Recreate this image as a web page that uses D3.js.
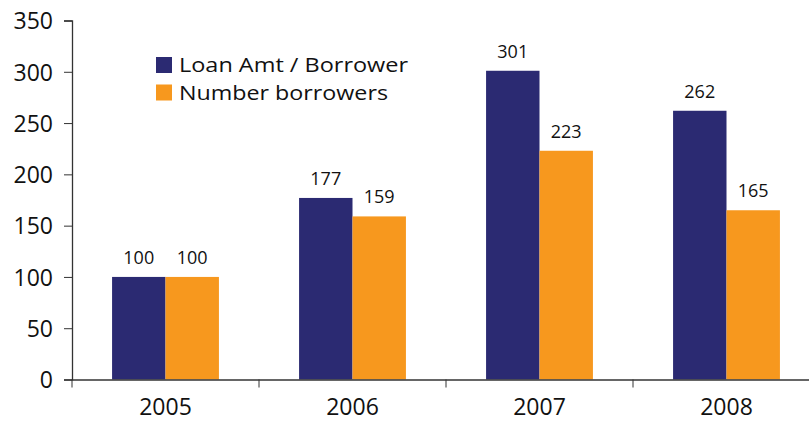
<!DOCTYPE html>
<html>
<head>
<meta charset="utf-8">
<script src="https://cdn.jsdelivr.net/npm/d3@7"></script>
<style>
  body { margin: 0; background: #fff; }
  svg text { font-family: "Open Sans", sans-serif; fill: #111; }
</style>
</head>
<body>
<svg id="chart" width="809" height="423"></svg>
<script>
const years = ['2005', '2006', '2007', '2008'];
const loanAmt = [100, 177, 301, 262];
const borrowers = [100, 159, 223, 165];
const seriesNames = ['Loan Amt / Borrower', 'Number borrowers'];
const yTicks = [0, 50, 100, 150, 200, 250, 300, 350];

const colors = ['#2b2a72', '#f7981e'];
const svg = d3.select('svg#chart');

const x = d3.scaleBand().domain(years).range([72, 820]).paddingInner(0).paddingOuter(0);
const xInner = d3.scaleBand().domain([0, 1]).range([0, x.bandwidth()]).paddingOuter(0.75).paddingInner(0);
const y = d3.scaleLinear().domain([0, 350]).range([379.5, 20.5]);

// bars
const g = svg.append('g');
years.forEach((yr, i) => {
  [loanAmt[i], borrowers[i]].forEach((v, s) => {
    const bx = x(yr) + xInner(s);
    g.append('rect')
      .attr('x', bx)
      .attr('y', y(v))
      .attr('width', xInner.bandwidth())
      .attr('height', y(0) - y(v))
      .style('fill', colors[s]);
    g.append('text')
      .attr('x', bx + xInner.bandwidth() / 2)
      .attr('y', y(v) - 13)
      .attr('text-anchor', 'middle')
      .style('font-size', '18px')
      .text(v);
  });
});

// y axis
const yAxis = svg.append('g')
  .attr('transform', 'translate(72,0)')
  .call(d3.axisLeft(y).tickValues(yTicks).tickSize(8).tickPadding(11));
yAxis.selectAll('text').style('font-size', '23px').attr('dy', '0.36em');

// x axis
const xAxis = svg.append('g')
  .attr('transform', `translate(0,${y(0)})`)
  .call(d3.axisBottom(x).tickSize(0).tickPadding(19));
xAxis.selectAll('text').style('font-size', '23px').attr('dy', '0.71em');
xAxis.selectAll('.tick').append('line')
  .attr('x1', -x.bandwidth() / 2).attr('x2', -x.bandwidth() / 2)
  .attr('y1', 0).attr('y2', 8).attr('stroke', '#333');

svg.selectAll('.domain').attr('stroke', '#333').attr('stroke-width', 1.3);
svg.selectAll('.tick line').attr('stroke', '#333');

// legend (narrow reference font: stretch to its width)
const legendWidths = [229, 209];
const legend = svg.append('g').attr('transform', 'translate(156,57)');
seriesNames.forEach((name, s) => {
  const row = legend.append('g').attr('transform', `translate(0,${s * 27.5})`);
  row.append('rect').attr('width', 16).attr('height', 16).style('fill', colors[s]);
  row.append('text')
    .attr('x', 23).attr('y', 8).attr('dy', '0.36em')
    .style('font-size', '20px')
    .attr('textLength', legendWidths[s])
    .attr('lengthAdjust', 'spacingAndGlyphs')
    .text(name);
});
</script>
</body>
</html>
